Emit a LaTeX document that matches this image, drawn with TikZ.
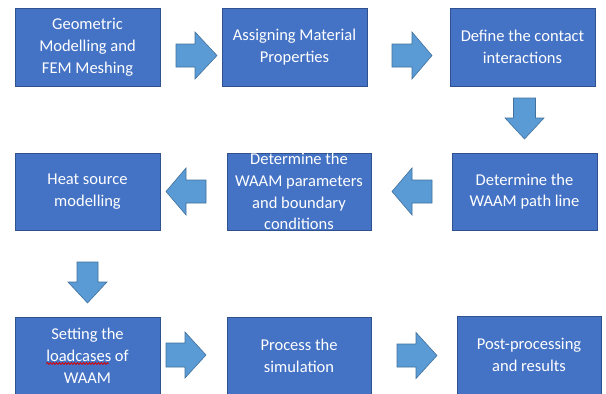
\documentclass[tikz,border=0pt]{standalone}
\usepackage{fontspec}
\setmainfont{Carlito}
\usetikzlibrary{decorations.pathmorphing,calc}
\definecolor{boxfill}{HTML}{4472C4}
\definecolor{boxline}{HTML}{2F528F}
\definecolor{arrfill}{HTML}{5B9BD5}
\definecolor{arrline}{HTML}{41719C}
\newcommand{\harr}[6]{\draw[arr] (#1,#4-#6) -- (#3,#4-#6) -- (#3,#4-#5) -- (#2,#4) -- (#3,#4+#5) -- (#3,#4+#6) -- (#1,#4+#6) -- cycle;}
\newcommand{\varr}[6]{\draw[arr] (#1-#6,#2) -- (#1-#6,#4) -- (#1-#5,#4) -- (#1,#3) -- (#1+#5,#4) -- (#1+#6,#4) -- (#1+#6,#2) -- cycle;}
\begin{document}
\begin{tikzpicture}[x=1pt,y=-1pt,
  box/.style={draw=boxline, fill=boxfill, line width=0.6pt, minimum width=145pt, minimum height=77pt, inner sep=0pt},
  txt/.style={text=white, align=center, font=\fontsize{16.5}{21.8}\selectfont, inner sep=0pt},
  arr/.style={draw=arrline, fill=arrfill, line width=0.6pt, line join=miter},
  spell/.style={draw=red!85!black, line width=0.8pt, decorate, decoration={snake, amplitude=0.9pt, segment length=3pt}}]
\useasboundingbox (0,0) rectangle (606,394);
\fill[white] (0,0) rectangle (606,394);
% boxes
\node[box, txt, minimum height=78pt] (b1) at (87.5,47) {Geometric\\Modelling and\\FEM Meshing};
\node[box, txt, minimum height=78pt] (b2) at (294.5,47) {Assigning Material\\Properties};
\node[box, txt, minimum height=78pt] (b3) at (522.5,47) {Define the contact\\interactions};
\node[box, txt] (b6) at (524.5,191.5) {Determine the\\WAAM path line};
\node[box, minimum width=144pt] (b5) at (299,191.5) {};
\begin{scope}
  \clip (b5.north west) rectangle (b5.south east);
  \node[txt] (b5t) at (b5.center) {Determine the\\WAAM parameters\\and boundary\\conditions};
\end{scope}
\node[box, txt] (b4) at (87.5,191.5) {Heat source\\modelling};
\node[box, txt] (b7) at (87.5,355.5) {Setting the\\loadcases of\\WAAM};
\node[box, txt, minimum width=144pt] (b8) at (299,355.5) {Process the\\simulation};
\node[box, txt, minimum width=144pt, minimum height=78pt] (b9) at (529,355) {Post-processing\\and results};
% spell-check underline under "loadcases"
\coordinate (w1) at ($(b7.center)+(-41,8)$);
\coordinate (w2) at ($(b7.center)+(21,8)$);
\draw[spell] (w1) -- (w2);
% block arrows
\harr{176}{217}{195}{55.5}{23.5}{11.5}
\harr{392}{432}{412}{55.5}{23.5}{11.5}
\varr{524.5}{98}{139}{118}{19.5}{11}
\harr{432}{392}{412}{191.5}{23.5}{11.5}
\harr{206}{166}{186}{191.5}{23.5}{11.5}
\varr{87.5}{262}{303}{282}{19.5}{10.5}
\harr{166}{206}{185}{355}{23}{12}
\harr{397}{437}{416}{355.5}{23}{11.5}
\end{tikzpicture}
\end{document}
